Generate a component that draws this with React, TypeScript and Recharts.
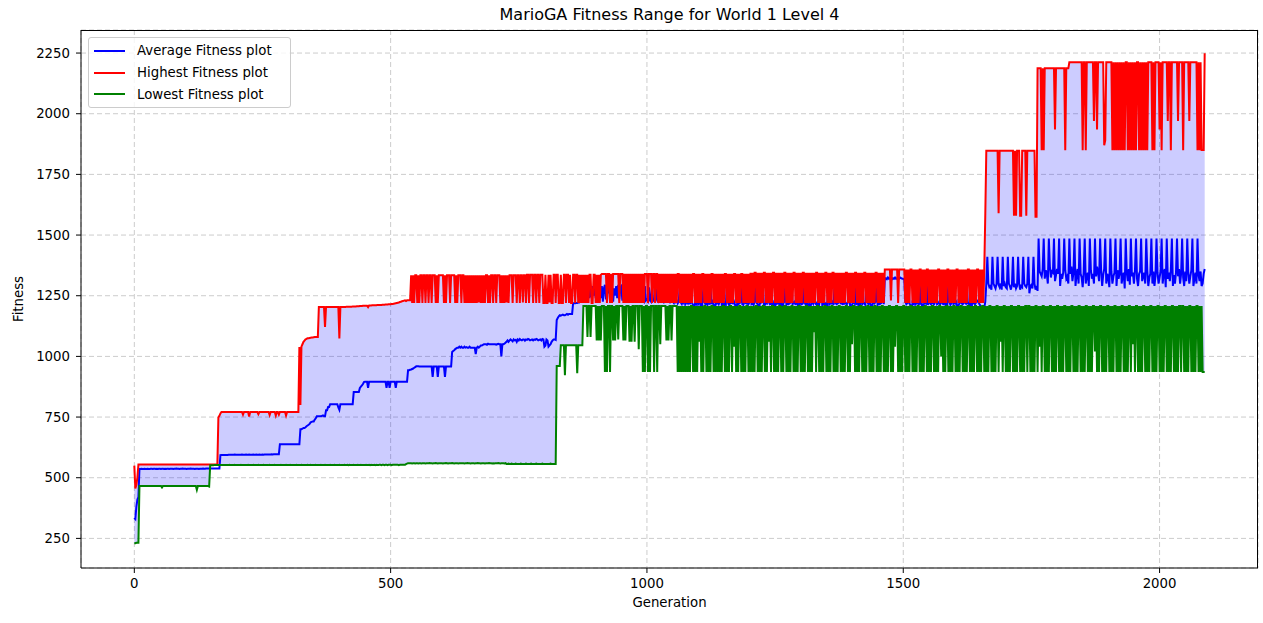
import { ComposedChart, Line, Area, XAxis, YAxis, CartesianGrid } from 'recharts';

// one sample every 2 generations, 0..2088 (30 samples = 60 generations per row)
const STEP = 2;

const highest = [
  550, 456, 470, 500, 555, 555, 555, 555, 555, 555, 555, 555, 555, 555, 555, 555, 555, 555, 555, 555, 555, 555, 555, 555, 555, 555, 555, 555, 555, 555,
  555, 555, 555, 555, 555, 555, 555, 555, 555, 555, 555, 555, 555, 555, 555, 555, 555, 555, 555, 555, 555, 555, 555, 555, 555, 555, 555, 555, 555, 555,
  555, 555, 555, 555, 555, 555, 555, 555, 555, 555, 555, 555, 555, 555, 555, 555, 555, 555, 555, 555, 555, 555, 748, 755, 765, 771, 771, 771, 771, 771,
  771, 771, 771, 771, 771, 771, 771, 771, 771, 771, 771, 771, 771, 771, 771, 771, 760, 771, 771, 771, 771, 771, 752, 771, 771, 771, 771, 771, 771, 771,
  771, 762, 771, 771, 771, 771, 771, 771, 771, 771, 771, 771, 758, 771, 771, 771, 771, 771, 756, 771, 771, 760, 771, 771, 771, 771, 771, 771, 756, 771,
  771, 771, 771, 771, 771, 771, 771, 771, 771, 771, 771, 1039, 800, 1040, 1050, 1060, 1065, 1070, 1072, 1075, 1075, 1076, 1077, 1078, 1078, 1079, 1080, 1080, 1080, 1080,
  1204, 1204, 1204, 1204, 1204, 1204, 1121, 1204, 1204, 1204, 1204, 1204, 1204, 1204, 1204, 1204, 1204, 1204, 1204, 1204, 1074, 1204, 1204, 1204, 1204, 1204, 1204, 1205, 1205, 1205,
  1205, 1205, 1205, 1206, 1206, 1206, 1206, 1207, 1207, 1207, 1208, 1208, 1208, 1209, 1209, 1209, 1209, 1209, 1203, 1210, 1210, 1210, 1211, 1211, 1211, 1211, 1211, 1212, 1212, 1212,
  1212, 1212, 1213, 1213, 1213, 1214, 1214, 1214, 1215, 1215, 1215, 1216, 1216, 1217, 1218, 1219, 1220, 1221, 1222, 1224, 1225, 1227, 1228, 1230, 1231, 1228, 1231, 1231, 1231, 1231,
  1334, 1220, 1334, 1220, 1334, 1334, 1220, 1334, 1220, 1334, 1334, 1220, 1334, 1334, 1220, 1334, 1334, 1220, 1334, 1334, 1220, 1334, 1334, 1334, 1220, 1334, 1220, 1334, 1334, 1334,
  1334, 1334, 1220, 1334, 1220, 1334, 1334, 1334, 1220, 1334, 1334, 1334, 1334, 1220, 1334, 1220, 1334, 1334, 1334, 1220, 1334, 1334, 1220, 1334, 1220, 1334, 1220, 1334, 1220, 1334,
  1220, 1334, 1220, 1334, 1220, 1334, 1222, 1334, 1220, 1334, 1220, 1334, 1220, 1334, 1334, 1220, 1334, 1220, 1334, 1334, 1220, 1334, 1334, 1220, 1334, 1334, 1334, 1220, 1334, 1220,
  1334, 1220, 1334, 1222, 1334, 1220, 1334, 1334, 1334, 1220, 1334, 1334, 1334, 1220, 1334, 1334, 1220, 1334, 1334, 1222, 1334, 1334, 1220, 1336, 1336, 1220, 1336, 1336, 1336, 1220,
  1336, 1336, 1220, 1336, 1336, 1220, 1336, 1336, 1336, 1220, 1220, 1336, 1220, 1220, 1336, 1222, 1336, 1220, 1220, 1336, 1336, 1220, 1336, 1336, 1220, 1220, 1336, 1220, 1220, 1336,
  1336, 1220, 1336, 1336, 1220, 1336, 1220, 1220, 1336, 1336, 1220, 1336, 1336, 1220, 1336, 1220, 1336, 1220, 1336, 1220, 1336, 1220, 1336, 1220, 1336, 1336, 1220, 1220, 1336, 1336,
  1220, 1336, 1220, 1336, 1220, 1336, 1340, 1340, 1340, 1340, 1340, 1220, 1340, 1340, 1220, 1340, 1220, 1340, 1340, 1340, 1340, 1340, 1340, 1220, 1340, 1340, 1340, 1220, 1340, 1220,
  1340, 1220, 1340, 1220, 1340, 1220, 1340, 1220, 1340, 1220, 1340, 1220, 1340, 1220, 1340, 1220, 1340, 1220, 1340, 1340, 1340, 1220, 1340, 1340, 1340, 1220, 1340, 1340, 1220, 1340,
  1340, 1220, 1340, 1220, 1340, 1220, 1340, 1220, 1340, 1220, 1340, 1220, 1340, 1220, 1340, 1220, 1340, 1220, 1340, 1220, 1340, 1340, 1220, 1340, 1220, 1340, 1220, 1340, 1220, 1340,
  1220, 1340, 1220, 1340, 1220, 1340, 1340, 1220, 1340, 1220, 1340, 1220, 1340, 1220, 1340, 1340, 1220, 1340, 1220, 1340, 1220, 1340, 1220, 1340, 1340, 1220, 1340, 1220, 1340, 1220,
  1340, 1220, 1340, 1220, 1340, 1220, 1340, 1340, 1220, 1340, 1220, 1340, 1220, 1340, 1220, 1340, 1340, 1220, 1340, 1220, 1340, 1220, 1340, 1340, 1220, 1340, 1220, 1340, 1220, 1340,
  1220, 1345, 1220, 1345, 1220, 1345, 1345, 1220, 1345, 1220, 1345, 1220, 1345, 1220, 1345, 1345, 1220, 1345, 1220, 1345, 1220, 1345, 1220, 1345, 1345, 1220, 1345, 1220, 1345, 1220,
  1345, 1220, 1345, 1220, 1345, 1345, 1220, 1345, 1220, 1345, 1220, 1345, 1220, 1345, 1345, 1220, 1345, 1220, 1345, 1220, 1345, 1220, 1345, 1345, 1220, 1345, 1220, 1345, 1220, 1345,
  1220, 1345, 1220, 1345, 1220, 1345, 1345, 1220, 1345, 1220, 1345, 1220, 1345, 1220, 1345, 1345, 1220, 1345, 1220, 1345, 1220, 1345, 1345, 1220, 1345, 1220, 1345, 1220, 1345, 1220,
  1345, 1220, 1345, 1220, 1345, 1345, 1220, 1345, 1220, 1345, 1220, 1345, 1220, 1345, 1345, 1220, 1345, 1220, 1345, 1220, 1345, 1220, 1345, 1345, 1220, 1345, 1220, 1345, 1220, 1345,
  1220, 1345, 1220, 1345, 1345, 1220, 1345, 1220, 1345, 1220, 1345, 1220, 1358, 1358, 1358, 1358, 1358, 1358, 1230, 1358, 1358, 1358, 1358, 1358, 1358, 1220, 1358, 1358, 1358, 1358,
  1358, 1358, 1220, 1358, 1220, 1358, 1220, 1358, 1358, 1220, 1358, 1220, 1358, 1220, 1358, 1220, 1358, 1358, 1220, 1358, 1220, 1358, 1220, 1358, 1358, 1220, 1358, 1220, 1358, 1220,
  1358, 1220, 1358, 1220, 1358, 1358, 1220, 1358, 1220, 1358, 1220, 1358, 1220, 1358, 1358, 1220, 1358, 1220, 1358, 1220, 1358, 1220, 1358, 1358, 1220, 1358, 1220, 1358, 1220, 1358,
  1220, 1358, 1220, 1358, 1358, 1220, 1358, 1220, 1358, 1220, 1358, 1220, 1358, 1358, 1220, 1358, 1220, 1358, 1220, 1355, 1582, 1847, 1847, 1847, 1847, 1847, 1847, 1847, 1847, 1847,
  1847, 1847, 1847, 1590, 1847, 1847, 1847, 1847, 1847, 1847, 1847, 1847, 1847, 1847, 1847, 1847, 1847, 1847, 1580, 1847, 1580, 1847, 1847, 1847, 1580, 1580, 1847, 1847, 1847, 1847,
  1580, 1847, 1847, 1847, 1847, 1847, 1847, 1847, 1847, 1575, 1575, 2187, 2187, 2187, 2187, 1850, 2187, 1850, 2187, 2187, 2187, 2187, 2187, 2187, 2187, 2187, 2187, 2187, 1935, 2187,
  2187, 2187, 2187, 2187, 2187, 2187, 2187, 2187, 1850, 2187, 2187, 2187, 2212, 2212, 2212, 2212, 2212, 2212, 2212, 2212, 2212, 2212, 2212, 2212, 2212, 1850, 2212, 2212, 1850, 2212,
  2212, 2212, 2212, 2212, 2212, 2212, 1970, 2212, 2212, 1935, 2212, 2212, 2212, 2212, 2212, 2212, 1870, 1890, 2212, 2212, 2212, 2212, 2212, 2212, 1850, 2212, 1850, 2212, 1850, 2212,
  1850, 2212, 1850, 2212, 1850, 2212, 1850, 2212, 2212, 1850, 2212, 1850, 2212, 1850, 2212, 1850, 2212, 1850, 2212, 2212, 1850, 2212, 1850, 2212, 1850, 2212, 1850, 2212, 1850, 2212,
  2212, 2212, 2212, 1850, 2212, 1850, 2212, 2212, 2212, 2212, 1935, 2212, 1850, 2212, 2212, 2212, 2212, 2212, 1970, 2212, 2212, 1850, 2212, 2212, 2212, 2212, 2212, 2212, 1970, 2212,
  2212, 2212, 2212, 1850, 2212, 2212, 2212, 2212, 2212, 1970, 2212, 2212, 2212, 2212, 2212, 2212, 2212, 1850, 2212, 1850, 2212, 1850, 1850, 1850, 2249,
];

const average = [
  335, 330, 380, 410, 420, 536, 536, 537, 536, 536, 537, 536, 536, 537, 536, 536, 537, 537, 536, 537, 537, 536, 537, 536, 537, 537, 536, 537, 537, 536,
  537, 536, 537, 537, 536, 537, 537, 537, 536, 537, 537, 538, 537, 537, 536, 537, 537, 538, 537, 537, 537, 536, 537, 537, 537, 538, 537, 537, 537, 536,
  537, 537, 537, 536, 537, 537, 537, 538, 537, 537, 538, 538, 538, 538, 538, 538, 538, 538, 538, 538, 538, 538, 538, 538, 593, 594, 594, 594, 594, 594,
  594, 594, 595, 595, 595, 595, 595, 595, 596, 595, 595, 595, 595, 595, 595, 596, 595, 595, 595, 596, 595, 595, 596, 595, 595, 595, 596, 595, 595, 596,
  595, 595, 596, 595, 595, 596, 595, 596, 596, 596, 596, 596, 596, 596, 597, 596, 597, 597, 597, 597, 597, 597, 638, 638, 638, 638, 638, 638, 638, 638,
  638, 638, 638, 638, 638, 638, 638, 638, 638, 638, 638, 638, 700, 700, 702, 705, 705, 708, 712, 715, 718, 722, 728, 730, 732, 732, 740, 745, 753, 753,
  753, 753, 753, 755, 757, 753, 753, 778, 778, 791, 791, 803, 803, 803, 803, 803, 803, 803, 803, 790, 780, 803, 803, 803, 803, 803, 803, 803, 803, 803,
  803, 803, 803, 803, 853, 853, 853, 853, 853, 853, 870, 875, 880, 886, 894, 896, 896, 896, 870, 896, 896, 896, 896, 896, 896, 896, 896, 896, 896, 896,
  896, 896, 896, 896, 896, 896, 870, 896, 896, 870, 896, 896, 896, 896, 896, 870, 896, 896, 896, 896, 896, 896, 896, 896, 896, 896, 896, 943, 943, 945,
  946, 948, 950, 953, 956, 959, 959, 959, 958, 958, 958, 958, 958, 958, 958, 958, 958, 958, 958, 958, 958, 915, 958, 958, 958, 958, 915, 958, 958, 958,
  958, 958, 958, 915, 958, 958, 958, 958, 958, 958, 1018, 1022, 1025, 1030, 1033, 1036, 1036, 1040, 1036, 1040, 1036, 1036, 1040, 1036, 1038, 1036, 1036, 1040, 1036, 1036,
  1036, 1036, 1036, 1010, 1036, 1040, 1036, 1040, 1045, 1045, 1048, 1050, 1050, 1050, 1048, 1052, 1050, 1050, 1050, 1050, 1050, 1050, 1050, 1048, 1050, 1052, 1050, 1050, 1000, 1050,
  1050, 1052, 1056, 1060, 1066, 1060, 1066, 1070, 1066, 1062, 1070, 1066, 1068, 1060, 1070, 1066, 1072, 1068, 1066, 1070, 1070, 1065, 1070, 1068, 1072, 1070, 1066, 1068, 1070, 1066,
  1070, 1068, 1072, 1070, 1066, 1068, 1070, 1066, 1072, 1070, 1040, 1045, 1070, 1066, 1040, 1045, 1050, 1060, 1066, 1070, 1070, 1068, 1150, 1158, 1165, 1170, 1168, 1170, 1172, 1170,
  1170, 1172, 1175, 1172, 1175, 1175, 1175, 1175, 1219, 1219, 1219, 1220, 1220, 1222, 1222, 1225, 1230, 1240, 1240, 1240, 1245, 1240, 1245, 1290, 1240, 1285, 1245, 1290, 1250, 1290,
  1240, 1290, 1230, 1285, 1295, 1240, 1290, 1225, 1280, 1295, 1235, 1290, 1260, 1295, 1230, 1285, 1290, 1225, 1280, 1250, 1290, 1240, 1295, 1235, 1285, 1290, 1230, 1280, 1295, 1240,
  1290, 1235, 1280, 1230, 1290, 1240, 1225, 1290, 1232, 1285, 1228, 1230, 1290, 1225, 1235, 1280, 1230, 1225, 1290, 1230, 1235, 1228, 1285, 1230, 1225, 1290, 1232, 1228, 1235, 1280,
  1230, 1225, 1232, 1285, 1228, 1230, 1225, 1290, 1232, 1228, 1235, 1230, 1280, 1225, 1230, 1228, 1222, 1285, 1225, 1230, 1218, 1225, 1290, 1222, 1215, 1228, 1220, 1285, 1218, 1225,
  1218, 1230, 1215, 1290, 1220, 1212, 1180, 1225, 1218, 1290, 1215, 1222, 1220, 1170, 1218, 1285, 1225, 1215, 1220, 1212, 1222, 1218, 1290, 1215, 1225, 1212, 1160, 1220, 1218, 1222,
  1215, 1225, 1290, 1212, 1218, 1150, 1220, 1215, 1300, 1222, 1212, 1218, 1220, 1310, 1215, 1225, 1212, 1160, 1220, 1215, 1218, 1222, 1300, 1215, 1212, 1225, 1220, 1218, 1310, 1215,
  1222, 1300, 1215, 1218, 1212, 1225, 1315, 1220, 1215, 1150, 1218, 1220, 1225, 1300, 1215, 1212, 1220, 1218, 1310, 1222, 1215, 1218, 1225, 1160, 1220, 1212, 1300, 1218, 1222, 1215,
  1215, 1220, 1160, 1218, 1225, 1300, 1212, 1220, 1215, 1218, 1222, 1310, 1215, 1220, 1225, 1212, 1300, 1218, 1150, 1220, 1225, 1215, 1218, 1305, 1220, 1212, 1222, 1218, 1160, 1215,
  1212, 1225, 1218, 1310, 1220, 1215, 1222, 1160, 1218, 1225, 1300, 1212, 1220, 1215, 1218, 1140, 1222, 1310, 1215, 1220, 1218, 1225, 1212, 1300, 1220, 1215, 1218, 1222, 1310, 1215,
  1225, 1212, 1300, 1218, 1220, 1215, 1222, 1310, 1218, 1150, 1212, 1225, 1220, 1300, 1215, 1218, 1222, 1160, 1220, 1310, 1215, 1222, 1218, 1212, 1300, 1225, 1215, 1220, 1218, 1150,
  1215, 1222, 1218, 1225, 1300, 1212, 1220, 1215, 1218, 1222, 1310, 1215, 1320, 1322, 1318, 1325, 1320, 1322, 1320, 1318, 1322, 1320, 1325, 1320, 1322, 1318, 1320, 1325, 1322, 1320,
  1320, 1318, 1225, 1215, 1220, 1300, 1218, 1212, 1145, 1222, 1218, 1300, 1215, 1220, 1225, 1212, 1310, 1218, 1220, 1150, 1215, 1222, 1218, 1300, 1212, 1225, 1220, 1215, 1310, 1218,
  1215, 1222, 1300, 1215, 1218, 1225, 1212, 1310, 1220, 1215, 1218, 1222, 1160, 1218, 1300, 1225, 1212, 1220, 1310, 1215, 1222, 1218, 1225, 1150, 1212, 1220, 1300, 1218, 1215, 1222,
  1222, 1218, 1300, 1215, 1225, 1160, 1220, 1212, 1310, 1218, 1215, 1222, 1230, 1225, 1218, 1210, 1200, 1180, 1165, 1200, 1225, 1300, 1410, 1300, 1285, 1290, 1275, 1410, 1300, 1290,
  1280, 1300, 1410, 1295, 1285, 1300, 1275, 1410, 1290, 1300, 1285, 1280, 1410, 1300, 1290, 1275, 1295, 1410, 1285, 1300, 1280, 1290, 1410, 1300, 1275, 1290, 1285, 1410, 1300, 1290,
  1285, 1300, 1410, 1260, 1290, 1295, 1280, 1410, 1300, 1275, 1290, 1270, 1486, 1350, 1340, 1330, 1360, 1486, 1320, 1355, 1340, 1300, 1486, 1370, 1325, 1350, 1345, 1486, 1310, 1335,
  1360, 1340, 1486, 1290, 1340, 1320, 1345, 1486, 1355, 1320, 1330, 1300, 1486, 1340, 1370, 1310, 1345, 1486, 1290, 1335, 1360, 1300, 1486, 1340, 1325, 1285, 1350, 1486, 1300, 1330,
  1345, 1290, 1486, 1355, 1320, 1340, 1300, 1486, 1330, 1370, 1345, 1310, 1486, 1355, 1290, 1335, 1360, 1486, 1300, 1340, 1325, 1285, 1486, 1350, 1300, 1330, 1345, 1486, 1290, 1355,
  1320, 1340, 1486, 1300, 1330, 1345, 1280, 1486, 1345, 1310, 1360, 1295, 1486, 1330, 1345, 1300, 1355, 1486, 1320, 1290, 1340, 1350, 1486, 1310, 1330, 1345, 1300, 1486, 1355, 1290,
  1325, 1340, 1486, 1300, 1350, 1290, 1330, 1486, 1345, 1300, 1325, 1350, 1486, 1300, 1340, 1360, 1285, 1486, 1320, 1345, 1310, 1355, 1486, 1290, 1335, 1300, 1345, 1486, 1330, 1360,
  1300, 1340, 1486, 1325, 1290, 1350, 1310, 1486, 1345, 1300, 1330, 1355, 1486, 1290, 1320, 1345, 1300, 1486, 1335, 1310, 1350, 1290, 1300, 1340, 1360,
];

const lowest = [
  230, 230, 232, 232, 232, 466, 466, 466, 466, 466, 466, 466, 466, 466, 466, 466, 466, 466, 466, 466, 466, 466, 466, 466, 466, 466, 466, 460, 466, 466,
  466, 466, 466, 466, 466, 466, 466, 466, 466, 466, 466, 466, 466, 466, 466, 466, 466, 466, 466, 466, 466, 466, 466, 466, 466, 466, 466, 466, 466, 466,
  466, 450, 466, 466, 466, 466, 466, 466, 466, 466, 466, 466, 466, 464, 551, 551, 551, 551, 552, 552, 552, 552, 552, 552, 552, 552, 552, 552, 552, 552,
  552, 552, 552, 553, 552, 552, 552, 552, 553, 552, 552, 552, 552, 552, 553, 552, 552, 552, 552, 552, 552, 553, 552, 552, 552, 552, 553, 552, 552, 552,
  552, 553, 552, 552, 552, 552, 553, 552, 552, 552, 552, 552, 553, 552, 552, 552, 552, 553, 552, 552, 552, 552, 552, 553, 552, 552, 552, 552, 553, 552,
  552, 552, 553, 552, 552, 552, 552, 552, 553, 552, 552, 552, 552, 553, 552, 552, 552, 552, 552, 553, 552, 552, 553, 552, 552, 552, 552, 553, 552, 552,
  552, 552, 553, 552, 552, 552, 553, 552, 552, 552, 552, 553, 552, 552, 552, 553, 552, 552, 552, 552, 553, 552, 552, 552, 552, 553, 552, 552, 553, 552,
  553, 552, 552, 552, 553, 552, 552, 552, 553, 552, 552, 553, 552, 552, 552, 552, 553, 552, 552, 553, 552, 553, 552, 552, 553, 552, 553, 552, 552, 553,
  553, 552, 553, 553, 552, 553, 553, 552, 553, 553, 553, 552, 553, 553, 553, 553, 553, 553, 552, 553, 553, 553, 553, 553, 553, 556, 558, 560, 560, 560,
  560, 559, 560, 560, 559, 560, 560, 559, 560, 560, 559, 560, 560, 560, 559, 560, 560, 560, 561, 560, 560, 559, 560, 560, 561, 560, 559, 560, 560, 560,
  560, 559, 560, 560, 561, 560, 559, 560, 560, 560, 561, 560, 559, 560, 560, 560, 559, 560, 560, 560, 560, 560, 559, 560, 560, 561, 560, 560, 559, 560,
  560, 560, 559, 560, 560, 561, 560, 560, 559, 560, 560, 560, 559, 560, 560, 560, 561, 560, 560, 559, 560, 559, 560, 560, 560, 561, 560, 559, 560, 560,
  560, 559, 560, 557, 557, 558, 557, 557, 558, 557, 557, 557, 558, 557, 557, 557, 557, 558, 557, 557, 557, 557, 558, 557, 557, 557, 557, 558, 557, 557,
  557, 557, 558, 557, 557, 557, 557, 557, 558, 557, 557, 557, 557, 557, 557, 557, 558, 557, 557, 557, 557, 557, 960, 960, 960, 960, 1046, 1046, 1046, 1046,
  922, 1046, 1046, 1046, 1046, 1046, 1046, 1046, 1046, 1046, 1046, 1046, 931, 1046, 1046, 1046, 1046, 1046, 1208, 1208, 1208, 1208, 1080, 1208, 1208, 1080, 1208, 1208, 1208, 1208,
  1208, 1066, 1208, 1066, 1208, 1066, 1208, 1208, 1208, 936, 1208, 936, 1208, 1208, 936, 1208, 1208, 1066, 1208, 1066, 1208, 1208, 1070, 1208, 1208, 1208, 1208, 1066, 1208, 1066,
  1208, 1208, 1208, 1060, 1208, 1060, 1208, 1208, 1060, 1208, 1208, 1208, 1030, 1208, 1208, 1208, 936, 1208, 936, 1208, 1208, 936, 1208, 936, 1208, 1208, 1208, 936, 1208, 1208,
  936, 1208, 1208, 1050, 1208, 1208, 1208, 1208, 1208, 1066, 1208, 1066, 1208, 1208, 1066, 1208, 1208, 1208, 1208, 1208, 936, 1208, 936, 1208, 936, 1208, 936, 1208, 936, 1208,
  936, 1208, 936, 1208, 1208, 936, 1208, 936, 1208, 936, 1208, 1060, 1208, 936, 1208, 936, 1208, 1208, 936, 1208, 936, 1208, 936, 1208, 1208, 936, 1208, 936, 1208, 936,
  1208, 936, 1208, 936, 1208, 1208, 936, 1208, 936, 1208, 936, 1208, 1208, 936, 1208, 1040, 1208, 936, 1208, 936, 1208, 1208, 936, 1208, 936, 1208, 936, 1208, 1208, 936,
  1208, 936, 1208, 936, 1208, 936, 1208, 1208, 936, 1208, 936, 1208, 936, 1208, 1208, 936, 1208, 936, 1208, 1060, 1208, 936, 1208, 1208, 936, 1208, 936, 1208, 936, 1208,
  1208, 936, 1208, 936, 1208, 1208, 936, 1208, 936, 1208, 936, 1208, 1208, 936, 1208, 936, 1208, 936, 1208, 1208, 936, 1208, 936, 1208, 936, 1208, 1208, 936, 1208, 936,
  1208, 936, 1208, 1100, 1208, 936, 1208, 1208, 936, 1208, 936, 1208, 936, 1208, 1208, 936, 1208, 936, 1208, 936, 1208, 1208, 936, 1208, 936, 1208, 936, 1208, 1208, 936,
  1208, 936, 1208, 936, 1208, 1208, 936, 1208, 936, 1208, 1050, 1208, 1208, 936, 1208, 936, 1208, 936, 1208, 1208, 936, 1208, 936, 1208, 936, 1208, 1208, 936, 1208, 936,
  1208, 936, 1208, 1208, 936, 1208, 936, 1208, 936, 1208, 1208, 936, 1208, 936, 1208, 936, 1208, 1208, 936, 1208, 936, 1208, 1040, 1208, 1208, 936, 1208, 936, 1208, 936,
  1208, 1208, 936, 1208, 936, 1208, 936, 1208, 1208, 936, 1208, 936, 1208, 936, 1208, 1208, 936, 1208, 936, 1208, 936, 1208, 1208, 936, 1208, 936, 1208, 936, 1208, 1208,
  936, 1208, 936, 1208, 936, 1208, 1208, 1000, 1208, 936, 1208, 936, 1208, 1208, 936, 1208, 936, 1208, 936, 1208, 1208, 936, 1208, 936, 1208, 936, 1208, 1208, 936, 1208,
  936, 1208, 936, 1208, 1208, 936, 1208, 936, 1208, 936, 1208, 1208, 936, 1208, 936, 1208, 936, 1208, 1208, 936, 1208, 936, 1208, 936, 1208, 1208, 936, 1208, 936, 1208,
  936, 1208, 1208, 936, 1208, 1060, 1208, 936, 1208, 1208, 936, 1208, 936, 1208, 936, 1208, 1208, 936, 1208, 936, 1208, 936, 1208, 1208, 936, 1208, 936, 1208, 936, 1208,
  1208, 936, 1208, 1208, 936, 1208, 936, 1208, 936, 1208, 1208, 936, 1208, 1040, 1208, 936, 1208, 1208, 936, 1208, 936, 1208, 936, 1208, 1208, 936, 1208, 936, 1208, 936,
  1208, 1208, 936, 1208, 936, 1208, 936, 1208, 1208, 936, 1208, 936, 1208, 936, 1208, 1208, 936, 1208, 936, 1208, 936, 1208, 1208, 936, 1208, 936, 1208, 936, 1208, 1208,
  936, 1208, 936, 1208, 936, 1208, 1208, 1020, 1208, 936, 1208, 936, 1208, 1208, 936, 1208, 936, 1208, 936, 1208, 1208, 936, 1208, 936, 1208, 936, 1208, 1208, 936, 1208,
  936, 1208, 936, 1208, 1208, 936, 1208, 936, 1208, 936, 1208, 1208, 936, 1208, 1050, 1208, 936, 1208, 1208, 936, 1208, 936, 1208, 936, 1208, 1208, 936, 1208, 936, 1208,
  936, 1208, 1208, 936, 1208, 936, 1208, 936, 1208, 1208, 936, 1208, 936, 1208, 936, 1208, 1208, 936, 1208, 936, 1208, 936, 1208, 1208, 936, 1208, 936, 1208, 936, 1208,
  1208, 936, 1208, 1208, 936, 1208, 936, 1208, 936, 1208, 1208, 936, 1208, 936, 1208, 936, 1208, 1208, 936, 1208, 936, 1208, 936, 936, 936,
];

const xTicks = [0, 500, 1000, 1500, 2000];
const yTicks = [250, 500, 750, 1000, 1250, 1500, 1750, 2000, 2250];

const legendItems = [
  { label: 'Average Fitness plot', color: '#0000ff' },
  { label: 'Highest Fitness plot', color: '#ff0000' },
  { label: 'Lowest Fitness plot', color: '#008000' },
];

const count = Math.min(highest.length, average.length, lowest.length);
const rows = average.slice(0, count).map((avg, i) => ({
  gen: i * STEP,
  avg,
  high: highest[i],
  low: lowest[i],
  band: [lowest[i], highest[i]],
}));

const FONT = '"DejaVu Sans", sans-serif';
const tickStyle = { fontSize: 13.3, fill: '#000', fontFamily: FONT };

export default function App() {
  return (
    <div style={{ position: 'absolute', left: 0, top: 0, width: 1263, height: 623, background: '#fff', fontFamily: FONT }}>
      <ComposedChart width={1263} height={623} data={rows} margin={{ top: 30, right: 5, bottom: 0, left: 0 }}>
        <CartesianGrid stroke="#cccccc" strokeDasharray="5 3" />
        <XAxis
          type="number"
          dataKey="gen"
          domain={[-104, 2192]}
          ticks={xTicks}
          allowDataOverflow
          height={55}
          tick={tickStyle}
          tickSize={5}
          tickMargin={6}
          stroke="#000"
        />
        <YAxis
          type="number"
          domain={[128, 2345]}
          ticks={yTicks}
          allowDataOverflow
          width={81}
          tick={tickStyle}
          tickSize={5}
          tickMargin={6}
          stroke="#000"
        />
        <Area dataKey="band" stroke="none" fill="#0000ff" fillOpacity={0.2} isAnimationActive={false} />
        <Line dataKey="avg" stroke="#0000ff" strokeWidth={2} dot={false} isAnimationActive={false} />
        <Line dataKey="high" stroke="#ff0000" strokeWidth={2} dot={false} isAnimationActive={false} />
        <Line dataKey="low" stroke="#008000" strokeWidth={2} dot={false} isAnimationActive={false} />
      </ComposedChart>

      {/* frame: top and right spines */}
      <div style={{ position: 'absolute', left: 81, top: 30, width: 1177, height: 538, borderTop: '1px solid #000', borderRight: '1px solid #000', boxSizing: 'border-box', pointerEvents: 'none' }} />

      <div style={{ position: 'absolute', left: 81, width: 1177, top: 5, textAlign: 'center', fontSize: 16, color: '#000' }}>
        MarioGA Fitness Range for World 1 Level 4
      </div>
      <div style={{ position: 'absolute', left: 81, width: 1177, top: 595, textAlign: 'center', fontSize: 13.3, color: '#000' }}>
        Generation
      </div>
      <div style={{ position: 'absolute', left: 18, top: 299, transform: 'translate(-50%, -50%) rotate(-90deg)', fontSize: 13.3, color: '#000', whiteSpace: 'nowrap' }}>
        Fitness
      </div>

      {/* legend */}
      <div style={{ position: 'absolute', left: 88, top: 37, width: 203, height: 71, boxSizing: 'border-box', background: 'rgba(255,255,255,0.8)', border: '1px solid #cccccc', borderRadius: 3, paddingTop: 2 }}>
        {legendItems.map((item) => (
          <div key={item.label} style={{ display: 'flex', alignItems: 'center', height: 21.7, fontSize: 13.3, color: '#000', whiteSpace: 'nowrap' }}>
            <div style={{ width: 31, height: 2, background: item.color, marginLeft: 5, marginRight: 12 }} />
            {item.label}
          </div>
        ))}
      </div>
    </div>
  );
}
